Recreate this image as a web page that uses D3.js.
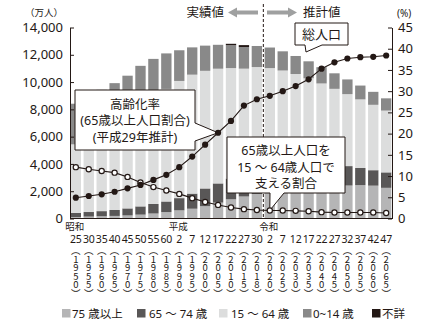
<!DOCTYPE html>
<html><head><meta charset="utf-8">
<script src="https://cdn.jsdelivr.net/npm/d3@7"></script>
<style>
body{margin:0;background:#fff;}
svg{display:block;font-family:'Noto Sans','Noto Sans CJK JP',sans-serif;}
.vt{writing-mode:vertical-rl;text-orientation:upright;font-family:'Noto Sans CJK JP',sans-serif;}
</style></head><body>
<svg id="c" width="443" height="326"></svg>
<script>
// ---- data (万人 / %) ----
const years = [1950,1955,1960,1965,1970,1975,1980,1985,1990,1995,2000,2005,2010,2015,2018,2020,2025,2030,2035,2040,2045,2050,2055,2060,2065];
const eraYearLabels = ["25","30","35","40","45","50","55","60","2","7","12","17","22","27","30","2","7","12","17","22","27","32","37","42","47"];
const eraNames = ["昭和","平成","令和"];
const eraStartIndex = [0,8,15];
const pop75plus = [107,139,164,189,224,284,366,471,599,717,901,1164,1407,1613,1798,1872,2180,2288,2260,2239,2277,2417,2446,2407,2248];
const pop65to74 = [309,336,376,435,516,603,699,776,894,1109,1301,1407,1517,1740,1760,1747,1497,1428,1522,1681,1643,1424,1258,1133,1133];
const pop15to64 = [5017,5517,6047,6744,7212,7581,7883,8251,8590,8716,8622,8409,8103,7629,7545,7406,7170,6875,6494,5978,5584,5275,5028,4793,4529];
const pop0to14 = [2979,3012,2843,2553,2515,2722,2751,2603,2249,2001,1847,1752,1680,1589,1542,1507,1407,1321,1246,1194,1138,1077,1012,951,898];
const popUnknown = [0,0,0,0,0,0,0,0,0,0,0,0,98,138,0,0,0,0,0,0,0,0,0,0,0];
const agingRate = [4.9,5.3,5.7,6.3,7.1,7.9,9.1,10.3,12.1,14.6,17.4,20.2,23.0,26.6,28.1,28.9,30.0,31.2,32.8,35.3,36.8,37.7,38.0,38.1,38.4];
const supportRatio = [12.1,11.6,11.2,10.8,9.8,8.5,7.4,6.6,5.8,4.8,3.9,3.2,2.6,2.2,2.0,1.9,1.9,1.8,1.7,1.5,1.4,1.4,1.4,1.4,1.3];
const leftTicks = [0,2000,4000,6000,8000,10000,12000,14000];
const rightTicks = [0,5,10,15,20,25,30,35,40,45];
const seriesKeys = ["a75","a65","a15","a0","unk"];
const seriesNames = ["75 歳以上","65 ～ 74 歳","15 ～ 64 歳","0~14 歳","不詳"];
const seriesColors = ["#b5b5b6","#595757","#dcdddd","#898989","#231815"];

// ---- layout ----
const svg = d3.select("#c");
const L = 70, R = 392, T = 27.5, B = 218.5;
const x = d3.scaleBand().domain(d3.range(years.length)).range([L, R]).paddingInner(0.2).paddingOuter(0.05);
const y = d3.scaleLinear().domain([0,14000]).range([B, T]);
const yR = d3.scaleLinear().domain([0,45]).range([B, T]);
const cx = i => x(i) + x.bandwidth()/2;

const rows = years.map((yr,i)=>({i, a75:pop75plus[i], a65:pop65to74[i], a15:pop15to64[i], a0:pop0to14[i], unk:popUnknown[i]}));
const stack = d3.stack().keys(seriesKeys)(rows);

// bars
svg.append("g").selectAll("g").data(stack).join("g")
  .attr("fill",(d,k)=>seriesColors[k])
  .selectAll("rect").data(d=>d).join("rect")
  .attr("x",d=>x(d.data.i)).attr("width",x.bandwidth())
  .attr("y",d=>y(d[1])).attr("height",d=>Math.max(0,y(d[0])-y(d[1])));

// axes
const axL = svg.append("g").attr("transform",`translate(${L},0)`)
  .call(d3.axisLeft(y).tickValues(leftTicks).tickFormat(d3.format(",")).tickSizeInner(-4).tickSizeOuter(0).tickPadding(7));
const axR = svg.append("g").attr("transform",`translate(${R},0)`)
  .call(d3.axisRight(yR).tickValues(rightTicks).tickSizeInner(-4).tickSizeOuter(0).tickPadding(6));
[axL,axR].forEach(a=>{
  a.selectAll("text").attr("font-size",13).attr("fill","#231815").attr("font-family","'Noto Sans',sans-serif");
  a.selectAll("path,line").attr("stroke","#231815");
});
svg.append("line").attr("x1",L).attr("x2",R).attr("y1",B).attr("y2",B).attr("stroke","#231815");

// unit labels
svg.append("text").attr("x",44).attr("y",15.5).attr("text-anchor","middle").attr("font-size",9.5).attr("fill","#231815").text("（万人）");
svg.append("text").attr("x",397).attr("y",16.5).attr("font-size",10).attr("fill","#231815").text("(%)");

// dashed divider
const divX = (x(14)+x.bandwidth()+x(15))/2;
svg.append("line").attr("x1",divX).attr("x2",divX).attr("y1",4).attr("y2",B)
  .attr("stroke","#231815").attr("stroke-width",1).attr("stroke-dasharray","3,2");

// arrows + labels
const ay = 12.5, arrowCol = "#9fa0a0";
svg.append("path").attr("fill",arrowCol)
  .attr("d",`M228,${ay} L237,${ay-5} L237,${ay-2} L258,${ay-2} L258,${ay+2} L237,${ay+2} L237,${ay+5} Z`);
svg.append("path").attr("fill",arrowCol)
  .attr("d",`M297,${ay} L288,${ay-5} L288,${ay-2} L267,${ay-2} L267,${ay+2} L288,${ay+2} L288,${ay+5} Z`);
svg.append("text").attr("x",224).attr("y",17).attr("text-anchor","end").attr("font-size",12.5).attr("fill","#231815").text("実績値");
svg.append("text").attr("x",303).attr("y",17).attr("font-size",12.5).attr("fill","#231815").text("推計値");

// callouts
function callout(d, lines, tx, ty0, dy, fs){
  const g = svg.append("g");
  g.append("path").attr("d",d).attr("fill","#fff").attr("stroke","#231815").attr("stroke-width",1);
  lines.forEach((t,k)=>g.append("text").attr("x",tx).attr("y",ty0+k*dy).attr("text-anchor","middle")
    .attr("font-size",fs).attr("fill","#231815").text(t));
}
const t1 = [cx(11), yR(agingRate[11])];
callout(`M75,90 H195 V123 L${t1[0]},${t1[1]} L195,141 V150 H75 Z`,
  ["高齢化率","(65歳以上人口割合)","(平成29年推計)"], 135, 108.5, 16.5, 12.5);
const t2 = [cx(15), yR(supportRatio[15])];
callout(`M227,137 H345 V193 H284 L${t2[0]},${t2[1]} L270,193 H227 Z`,
  ["65歳以上人口を","15 ～ 64歳人口で","支える割合"], 286, 155, 16.5, 12.5);
callout(`M295,23 H348 V45 H322 L306,52 L305,45 H295 Z`, ["総人口"], 321.5, 38.5, 0, 13);

// lines
const lineR = d3.line().x((d,i)=>cx(i)).y(d=>yR(d));
svg.append("path").attr("d",lineR(supportRatio)).attr("fill","none").attr("stroke","#231815").attr("stroke-width",1.1);
svg.append("path").attr("d",lineR(agingRate)).attr("fill","none").attr("stroke","#231815").attr("stroke-width",1.1);
svg.append("g").selectAll("circle").data(supportRatio).join("circle")
  .attr("cx",(d,i)=>cx(i)).attr("cy",d=>yR(d)).attr("r",2.6)
  .attr("fill","#fff").attr("stroke","#231815").attr("stroke-width",1.2);
svg.append("g").selectAll("circle").data(agingRate).join("circle")
  .attr("cx",(d,i)=>cx(i)).attr("cy",d=>yR(d)).attr("r",3.1).attr("fill","#231815");

// x labels
const xl = svg.append("g").attr("fill","#231815");
eraNames.forEach((n,k)=>xl.append("text").attr("x",cx(eraStartIndex[k])-1).attr("y",229.5)
  .attr("text-anchor","middle").attr("font-size",9.5).text(n));
eraYearLabels.forEach((t,i)=>xl.append("text").attr("x",cx(i)).attr("y",243)
  .attr("text-anchor","middle").attr("font-size",10.5).attr("letter-spacing",-0.2).text(t));
years.forEach((yr,i)=>{
  xl.append("text").attr("class","vt").attr("x",cx(i)).attr("y",246)
    .attr("font-size",9.5).attr("letter-spacing",-1).text("（" + yr + "）");
});

// legend
const legX = [62,137,219,303,372], legTX=[72,149,231,313,382];
const lg = svg.append("g");
seriesNames.forEach((n,k)=>{
  lg.append("rect").attr("x",legX[k]).attr("y",309).attr("width",8.5).attr("height",8.5).attr("fill",seriesColors[k]);
  lg.append("text").attr("x",legTX[k]).attr("y",317.5).attr("font-size",11.5).attr("fill","#231815").text(n);
});
</script>
</body></html>
